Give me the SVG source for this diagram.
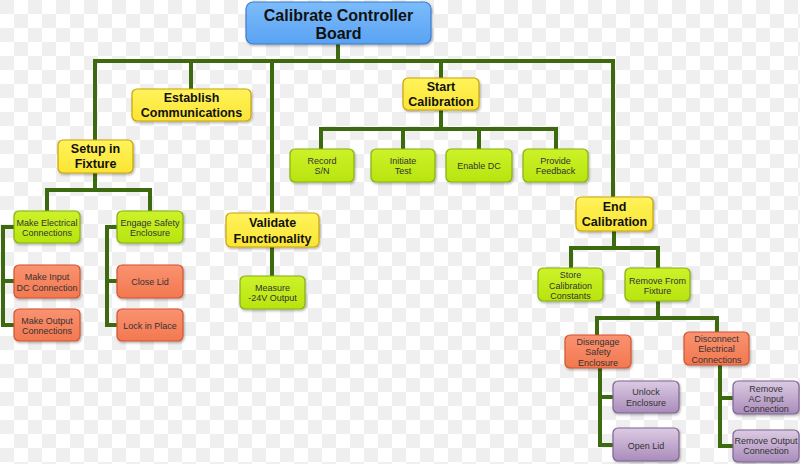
<svg xmlns="http://www.w3.org/2000/svg" width="800" height="464" viewBox="0 0 800 464">
<defs>
<pattern id="chk" width="28" height="28" patternUnits="userSpaceOnUse">
<rect width="28" height="28" fill="#ffffff"/>
<rect width="14" height="14" fill="#efefef"/>
<rect x="14" y="14" width="14" height="14" fill="#efefef"/>
</pattern>
<linearGradient id="gBlue" x1="0" y1="0" x2="0" y2="1"><stop offset="0" stop-color="#7cbcfb"/><stop offset="1" stop-color="#5aa2f2"/></linearGradient>
<linearGradient id="gYel" x1="0" y1="0" x2="0" y2="1"><stop offset="0" stop-color="#fff35a"/><stop offset="1" stop-color="#fbe534"/></linearGradient>
<linearGradient id="gLime" x1="0" y1="0" x2="0" y2="1"><stop offset="0" stop-color="#cdf22a"/><stop offset="1" stop-color="#b8e40e"/></linearGradient>
<linearGradient id="gSal" x1="0" y1="0" x2="0" y2="1"><stop offset="0" stop-color="#fa9270"/><stop offset="1" stop-color="#f27850"/></linearGradient>
<linearGradient id="gPur" x1="0" y1="0" x2="0" y2="1"><stop offset="0" stop-color="#dccbe3"/><stop offset="1" stop-color="#a98bbb"/></linearGradient>
<filter id="sh" x="-10%" y="-10%" width="125%" height="130%"><feDropShadow dx="1" dy="1.5" stdDeviation="1" flood-color="#000" flood-opacity="0.3"/></filter>
</defs>
<style>
.bx{stroke-width:1.2;filter:url(#sh)}
.root{fill:url(#gBlue);stroke:#3b7dd0}
.yel{fill:url(#gYel);stroke:#c9a30a}
.lime{fill:url(#gLime);stroke:#86b012}
.sal{fill:url(#gSal);stroke:#cf5530}
.pur{fill:url(#gPur);stroke:#7d6592}
.t1{font-family:"Liberation Sans",Arial,sans-serif;font-weight:bold;font-size:16px;fill:#111;text-anchor:middle}
.t2{font-family:"Liberation Sans",Arial,sans-serif;font-weight:bold;font-size:12.5px;fill:#111;text-anchor:middle}
.t3{font-family:"Liberation Sans",Arial,sans-serif;font-size:9px;fill:#333;text-anchor:middle}
.c{fill:none;stroke:#3d6a0f;stroke-width:4;stroke-linecap:square;stroke-linejoin:miter}
</style>
<rect width="800" height="464" fill="url(#chk)"/>
<g id="connectors">
<path class="c" d="M338 44V61M95 140V61H613V197M191 61V89M272 61V213M441 61V78"/>
<path class="c" d="M441 110V129M321 149V129H556V149M403 129V149M479 129V149"/>
<path class="c" d="M95 173V190M47 211V190H150V211"/>
<path class="c" d="M14 227H3V325H14M3 281H14"/>
<path class="c" d="M117 227H107V325H117M107 281H117"/>
<path class="c" d="M272 247V276"/>
<path class="c" d="M614 231V248M571 268V248H658V268"/>
<path class="c" d="M658 301V318M597 335V318H717V332"/>
<path class="c" d="M600 368V445H613M600 397H613"/>
<path class="c" d="M720 365V446H733M720 398H733"/>
</g>
<g id="n-root"><rect class="bx root" x="246" y="2" width="185" height="42" rx="7"/><text class="t1" x="338.5" y="20.5">Calibrate Controller</text><text class="t1" x="338.5" y="38.5">Board</text></g>
<g id="n-establish"><rect class="bx yel" x="132" y="89" width="119" height="32" rx="5"/><text class="t2" x="191.5" y="102">Establish</text><text class="t2" x="191.5" y="117">Communications</text></g>
<g id="n-setup"><rect class="bx yel" x="58" y="140" width="75" height="33" rx="5"/><text class="t2" x="95.5" y="153">Setup in</text><text class="t2" x="95.5" y="168">Fixture</text></g>
<g id="n-start"><rect class="bx yel" x="403" y="78" width="76" height="32" rx="5"/><text class="t2" x="441" y="91">Start</text><text class="t2" x="441" y="106">Calibration</text></g>
<g id="n-validate"><rect class="bx yel" x="226" y="213" width="93" height="34" rx="5"/><text class="t2" x="272.5" y="227">Validate</text><text class="t2" x="272.5" y="243">Functionality</text></g>
<g id="n-end"><rect class="bx yel" x="576" y="197" width="77" height="34" rx="5"/><text class="t2" x="614.5" y="210.5">End</text><text class="t2" x="614.5" y="226">Calibration</text></g>
<g id="n-record"><rect class="bx lime" x="290" y="149" width="64" height="33" rx="5"/><text class="t3" x="322" y="163.5">Record</text><text class="t3" x="322" y="174">S/N</text></g>
<g id="n-initiate"><rect class="bx lime" x="371" y="149" width="64" height="33" rx="5"/><text class="t3" x="403" y="163.5">Initiate</text><text class="t3" x="403" y="174">Test</text></g>
<g id="n-enable"><rect class="bx lime" x="446" y="149" width="66" height="33" rx="5"/><text class="t3" x="479" y="168.5">Enable DC</text></g>
<g id="n-feedback"><rect class="bx lime" x="523" y="149" width="65" height="33" rx="5"/><text class="t3" x="555.5" y="163.5">Provide</text><text class="t3" x="555.5" y="174">Feedback</text></g>
<g id="n-makeelec"><rect class="bx lime" x="14" y="211" width="66" height="32" rx="5"/><text class="t3" x="47" y="225.5">Make Electrical</text><text class="t3" x="47" y="235.5">Connections</text></g>
<g id="n-engage"><rect class="bx lime" x="117" y="211" width="66" height="32" rx="5"/><text class="t3" x="150" y="225.5">Engage Safety</text><text class="t3" x="150" y="235.5">Enclosure</text></g>
<g id="n-makeinput"><rect class="bx sal" x="14" y="265" width="66" height="33" rx="5"/><text class="t3" x="47" y="280">Make Input</text><text class="t3" x="47" y="290.5">DC Connection</text></g>
<g id="n-makeoutput"><rect class="bx sal" x="14" y="309" width="66" height="32" rx="5"/><text class="t3" x="47" y="323.5">Make Output</text><text class="t3" x="47" y="333.5">Connections</text></g>
<g id="n-closelid"><rect class="bx sal" x="117" y="265" width="66" height="33" rx="5"/><text class="t3" x="150" y="284.5">Close Lid</text></g>
<g id="n-lock"><rect class="bx sal" x="117" y="309" width="66" height="32" rx="5"/><text class="t3" x="150" y="328.5">Lock in Place</text></g>
<g id="n-measure"><rect class="bx lime" x="240" y="276" width="65" height="33" rx="5"/><text class="t3" x="272.5" y="290.5">Measure</text><text class="t3" x="272.5" y="301">-24V Output</text></g>
<g id="n-store"><rect class="bx lime" x="538" y="268" width="65" height="33" rx="5"/><text class="t3" x="570.5" y="278">Store</text><text class="t3" x="570.5" y="288.5">Calibration</text><text class="t3" x="570.5" y="299">Constants</text></g>
<g id="n-remove"><rect class="bx lime" x="625" y="268" width="65" height="33" rx="5"/><text class="t3" x="657.5" y="283.5">Remove From</text><text class="t3" x="657.5" y="293.5">Fixture</text></g>
<g id="n-disengage"><rect class="bx sal" x="565" y="335" width="66" height="33" rx="5"/><text class="t3" x="598" y="344.5">Disengage</text><text class="t3" x="598" y="355">Safety</text><text class="t3" x="598" y="365.5">Enclosure</text></g>
<g id="n-disconnect"><rect class="bx sal" x="684" y="332" width="65" height="33" rx="5"/><text class="t3" x="716.5" y="341.5">Disconnect</text><text class="t3" x="716.5" y="352">Electrical</text><text class="t3" x="716.5" y="362.5">Connections</text></g>
<g id="n-unlock"><rect class="bx pur" x="613" y="381" width="66" height="32" rx="5"/><text class="t3" x="646" y="395">Unlock</text><text class="t3" x="646" y="405.5">Enclosure</text></g>
<g id="n-openlid"><rect class="bx pur" x="613" y="428" width="66" height="33" rx="5"/><text class="t3" x="646" y="449">Open Lid</text></g>
<g id="n-removeac"><rect class="bx pur" x="733" y="381" width="66" height="33" rx="5"/><text class="t3" x="766" y="391.5">Remove</text><text class="t3" x="766" y="402">AC Input</text><text class="t3" x="766" y="412">Connection</text></g>
<g id="n-removeout"><rect class="bx pur" x="733" y="430" width="66" height="32" rx="5"/><text class="t3" x="766" y="443.5">Remove Output</text><text class="t3" x="766" y="453.5">Connection</text></g>
</svg>
